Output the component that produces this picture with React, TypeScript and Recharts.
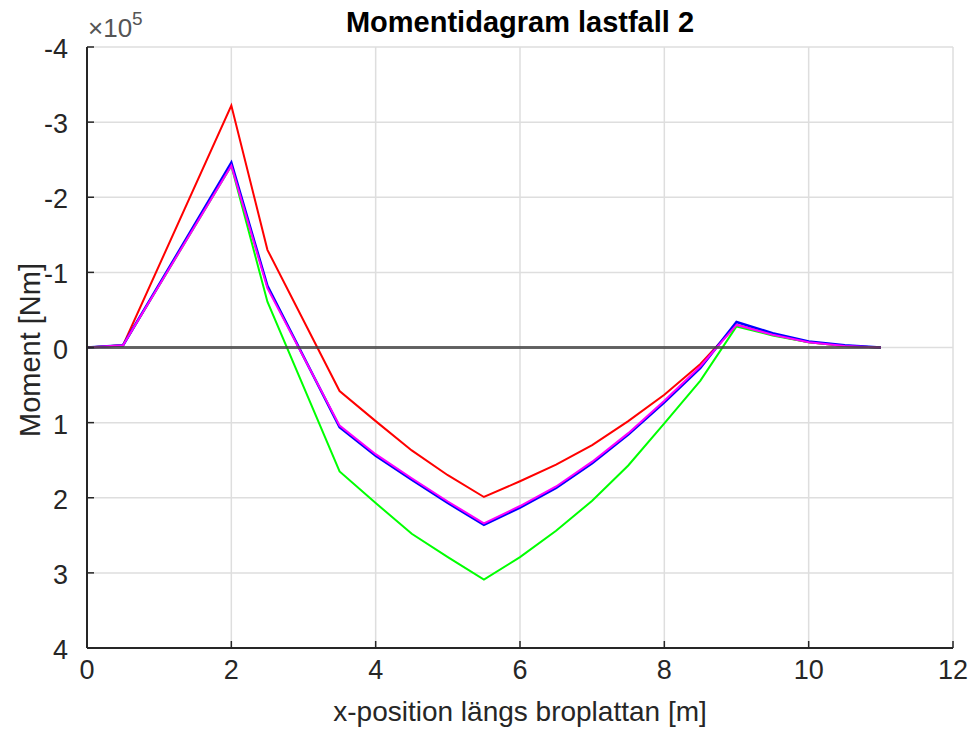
import { LineChart, Line, XAxis, YAxis, CartesianGrid } from "recharts";

// x positions along the slab [m], moments in units of 1e5 Nm
const xPos = [0, 0.5, 2, 2.5, 3.5, 4, 4.5, 5, 5.5, 6, 6.5, 7, 7.5, 8, 8.5, 9, 9.5, 10, 10.5, 11];
const redVals = [0, -0.03, -3.22, -1.3, 0.58, 0.98, 1.37, 1.7, 1.99, 1.78, 1.56, 1.3, 0.98, 0.63, 0.22, -0.3, -0.17, -0.07, -0.02, 0];
const greenVals = [0, -0.03, -2.42, -0.61, 1.65, 2.07, 2.48, 2.79, 3.09, 2.79, 2.44, 2.04, 1.57, 1.01, 0.44, -0.28, -0.16, -0.07, -0.02, 0];
const blueVals = [0, -0.03, -2.46, -0.82, 1.06, 1.44, 1.76, 2.07, 2.36, 2.13, 1.87, 1.54, 1.16, 0.73, 0.27, -0.34, -0.19, -0.08, -0.03, 0];
const magentaVals = [0, -0.03, -2.42, -0.79, 1.04, 1.42, 1.74, 2.05, 2.34, 2.11, 1.85, 1.52, 1.14, 0.71, 0.25, -0.3, -0.17, -0.07, -0.02, 0];
const zeroLine = [0, 0, 0, 0, 0, 0, 0, 0, 0, 0, 0, 0, 0, 0, 0, 0, 0, 0, 0, 0];

const xTicks = [0, 2, 4, 6, 8, 10, 12];
const yTicks = [-4, -3, -2, -1, 0, 1, 2, 3, 4];

const data = xPos.map((x, i) => ({
  x,
  red: redVals[i],
  green: greenVals[i],
  blue: blueVals[i],
  magenta: magentaVals[i],
  zero: zeroLine[i],
}));

const FONT = '"Liberation Sans", Arial, Helvetica, sans-serif';
const AXIS = "#262626";

const XTick = (props: any) => {
  const { x, y, payload } = props;
  return (
    <g>
      <line x1={x} y1={y} x2={x} y2={y - 7} stroke={AXIS} strokeWidth={1.5} />
      <text x={x} y={y + 31} textAnchor="middle" fill={AXIS} fontSize={27} fontFamily={FONT}>
        {payload.value}
      </text>
    </g>
  );
};

const YTick = (props: any) => {
  const { x, y, payload } = props;
  return (
    <g>
      <line x1={x} y1={y} x2={x + 7} y2={y} stroke={AXIS} strokeWidth={1.5} />
      <text x={x - 19} y={y + 11} textAnchor="end" fill={AXIS} fontSize={27} fontFamily={FONT}>
        {payload.value}
      </text>
    </g>
  );
};

export default function App() {
  return (
    <div style={{ position: "absolute", left: 0, top: 0, width: 973, height: 732, background: "#fff", fontFamily: FONT }}>
      <LineChart width={973} height={732} data={data} margin={{ top: 47, right: 20, left: 0, bottom: 0 }}>
        <CartesianGrid stroke="#dedede" strokeWidth={1.5} />
        <XAxis
          dataKey="x"
          type="number"
          domain={[0, 12]}
          ticks={xTicks}
          height={84}
          tickSize={0}
          tickMargin={0}
          tickLine={false}
          tick={<XTick />}
          axisLine={{ stroke: AXIS, strokeWidth: 2 }}
          interval={0}
        />
        <YAxis
          type="number"
          domain={[-4, 4]}
          reversed
          ticks={yTicks}
          width={87}
          tickSize={0}
          tickMargin={0}
          tickLine={false}
          tick={<YTick />}
          axisLine={{ stroke: AXIS, strokeWidth: 2 }}
          interval={0}
        />
        <Line dataKey="red" stroke="#ff0000" strokeWidth={2} dot={false} isAnimationActive={false} />
        <Line dataKey="green" stroke="#00ff00" strokeWidth={2} dot={false} isAnimationActive={false} />
        <Line dataKey="blue" stroke="#0000ff" strokeWidth={2.5} dot={false} isAnimationActive={false} />
        <Line dataKey="magenta" stroke="#ff00ff" strokeWidth={2} dot={false} isAnimationActive={false} />
        <Line dataKey="zero" stroke="#404040" strokeOpacity={0.8} strokeWidth={3} dot={false} isAnimationActive={false} />
      </LineChart>
      <div style={{ position: "absolute", left: 0, width: 1040, top: 6, textAlign: "center", fontSize: 29, fontWeight: "bold", color: "#000" }}>
        Momentidagram lastfall 2
      </div>
      <div style={{ position: "absolute", left: 88, top: 10, fontSize: 26, color: "#555", whiteSpace: "nowrap" }}>
        ×10<sup style={{ fontSize: 19, position: "relative", top: -2 }}>5</sup>
      </div>
      <div style={{ position: "absolute", left: 0, width: 1040, top: 696, textAlign: "center", fontSize: 28, color: AXIS }}>
        x-position längs broplattan [m]
      </div>
      <div
        style={{
          position: "absolute",
          left: 30,
          top: 350,
          transform: "translate(-50%, -50%) rotate(-90deg)",
          fontSize: 29,
          color: AXIS,
          whiteSpace: "nowrap",
        }}
      >
        Moment [Nm]
      </div>
    </div>
  );
}
